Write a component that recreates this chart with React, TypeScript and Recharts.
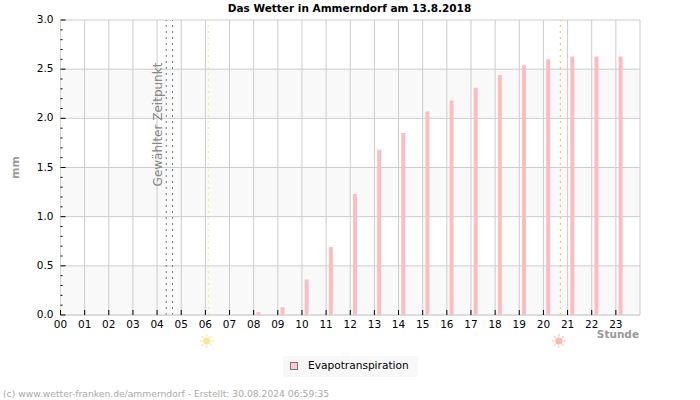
import React from "react";
import {
  Bar,
  CartesianGrid,
  ComposedChart,
  Legend,
  ReferenceLine,
  XAxis,
  YAxis,
} from "recharts";

const FONT = "'DejaVu Sans', sans-serif";

const HOURS = [0, 1, 2, 3, 4, 5, 6, 7, 8, 9, 10, 11, 12, 13, 14, 15, 16, 17, 18, 19, 20, 21, 22, 23];
const EVAPOTRANSPIRATION = [
  0, 0, 0, 0, 0, 0, 0, 0, 0.03, 0.08, 0.36, 0.69, 1.23, 1.68, 1.85, 2.07, 2.18, 2.31, 2.44, 2.54, 2.6, 2.63, 2.63, 2.63,
];
// hourly totals are plotted a little after the full hour
const BAR_SHIFT = 0.2;

const X_TICKS = [...HOURS, 24];
const Y_MAJOR = [0, 0.5, 1, 1.5, 2, 2.5, 3];
const Y_TICKS = [
  0, 0.1, 0.2, 0.3, 0.4, 0.5, 0.6, 0.7, 0.8, 0.9, 1, 1.1, 1.2, 1.3, 1.4, 1.5, 1.6, 1.7, 1.8, 1.9, 2, 2.1, 2.2, 2.3, 2.4,
  2.5, 2.6, 2.7, 2.8, 2.9, 3,
];

const SELECTED_TIMES = [4.38, 4.64];
const SUNRISE = 6.12;
const SUNSET = 20.7;

const data = HOURS.map((hour, i) => ({
  time: hour + BAR_SHIFT,
  value: EVAPOTRANSPIRATION[i],
}));

const HourTick = ({ x, y, payload }: any) => {
  if (payload.value === 24) return <g />;
  return (
    <g>
      <line x1={x} x2={x} y1={y} y2={y - 5} stroke="#000" />
      <text x={x} y={y + 13} textAnchor="middle" fontFamily={FONT} fontSize={10.5} fill="#000">
        {String(payload.value).padStart(2, "0")}
      </text>
    </g>
  );
};

const ValueTick = ({ x, y, payload }: any) => {
  const major = Y_MAJOR.includes(payload.value);
  return (
    <g>
      <line x1={x} x2={x + (major ? 5 : 2)} y1={y} y2={y} stroke="#000" />
      {major && (
        <text x={x - 7} y={y + 3} textAnchor="end" fontFamily={FONT} fontSize={10.5} fill="#000">
          {payload.value.toFixed(1)}
        </text>
      )}
    </g>
  );
};

const sunLabel = (core: string, ray: string) => (props: any) => {
  const { x, y, height } = props.viewBox;
  const cx = x - 1.5;
  const cy = y + height + 26;
  const rays = [0, 45, 90, 135, 180, 225, 270, 315];
  return (
    <g>
      {rays.map((angle) => {
        const rad = (angle * Math.PI) / 180;
        return (
          <line
            key={angle}
            x1={cx + 4.5 * Math.cos(rad)}
            y1={cy + 4.5 * Math.sin(rad)}
            x2={cx + 7 * Math.cos(rad)}
            y2={cy + 7 * Math.sin(rad)}
            stroke={ray}
            strokeWidth={1.3}
          />
        );
      })}
      <circle cx={cx} cy={cy} r={3.6} fill={core} />
    </g>
  );
};

const selectedLabel = (props: any) => {
  const { x, y, height } = props.viewBox;
  const cx = x - 8;
  const cy = y + height / 2 - 43;
  return (
    <text
      x={cx}
      y={cy}
      transform={`rotate(-90 ${cx} ${cy})`}
      textAnchor="middle"
      dominantBaseline="central"
      fontFamily={FONT}
      fontSize={12}
      fill="#888"
    >
      Gewählter Zeitpunkt
    </text>
  );
};

const LegendBox = () => (
  <div
    style={{
      width: 135,
      height: 21,
      background: "#f8f8f8",
      position: "relative",
      fontFamily: FONT,
      fontSize: 10.6,
      color: "#000",
    }}
  >
    <span
      style={{
        position: "absolute",
        left: 7,
        top: 6,
        width: 6,
        height: 6,
        background: "#ffcccc",
        border: "1px solid #777",
      }}
    />
    <span style={{ position: "absolute", left: 25, top: 3 }}>Evapotranspiration</span>
  </div>
);

export default function App() {
  return (
    <div style={{ position: "absolute", left: 0, top: 0, width: 700, height: 400, background: "#fff" }}>
      <div
        style={{
          position: "absolute",
          top: 2,
          left: 0,
          width: 699,
          textAlign: "center",
          fontFamily: FONT,
          fontSize: 10.5,
          fontWeight: "bold",
        }}
      >
        Das Wetter in Ammerndorf am 13.8.2018
      </div>
      <ComposedChart
        width={700}
        height={400}
        data={data}
        margin={{ top: 20, right: 60, bottom: 0, left: 0 }}
        style={{ position: "absolute", left: 0, top: 0 }}
      >
        <CartesianGrid
          stroke="#cccccc"
          horizontalValues={Y_MAJOR}
          verticalValues={X_TICKS}
          horizontalFill={["#ffffff", "#f9f9f9"]}
          fillOpacity={1}
        />
        <XAxis
          dataKey="time"
          type="number"
          domain={[0, 24]}
          ticks={X_TICKS}
          interval={0}
          axisLine={{ stroke: "#d4d4d4" }}
          tickLine={false}
          tickSize={0}
          tickMargin={0}
          tick={HourTick}
          height={85}
          label={{
            value: "Stunde",
            position: "insideTopRight",
            offset: 14,
            dx: 13,
            dy: 2,
            style: { fontFamily: FONT, fontSize: 10.5, fontWeight: "bold", fill: "#999" },
          }}
        />
        <YAxis
          type="number"
          domain={[0, 3]}
          ticks={Y_TICKS}
          interval={0}
          width={60.5}
          axisLine={{ stroke: "#d4d4d4" }}
          tickLine={false}
          tickSize={0}
          tickMargin={0}
          tick={ValueTick}
          label={{
            value: "mm",
            angle: -90,
            position: "insideLeft",
            offset: 15,
            style: { fontFamily: FONT, fontSize: 11, fontWeight: "bold", fill: "#999", textAnchor: "middle" },
          }}
        />
        <Bar dataKey="value" name="Evapotranspiration" fill="#ffbcbc" barSize={4} isAnimationActive={false} />
        {SELECTED_TIMES.map((time, i) => (
          <ReferenceLine
            key={time}
            x={time}
            stroke="#777"
            strokeDasharray="2 4"
            label={i === 0 ? selectedLabel : undefined}
          />
        ))}
        <ReferenceLine x={SUNRISE} stroke="#f8ee5a" strokeDasharray="2 4" label={sunLabel("#ffe391", "#ffeaa8")} />
        <ReferenceLine x={SUNSET} stroke="#ffb83a" strokeDasharray="2 4" label={sunLabel("#ffb8a3", "#ffcbbb")} />
        <Legend
          layout="horizontal"
          verticalAlign="middle"
          align="center"
          content={LegendBox}
          wrapperStyle={{ left: 283, top: 356, width: 135, height: 21, bottom: "auto" }}
        />
      </ComposedChart>
      <div
        style={{
          position: "absolute",
          left: 3,
          top: 388,
          fontFamily: FONT,
          fontSize: 9.2,
          color: "#aaa",
          whiteSpace: "nowrap",
        }}
      >
        (c) www.wetter-franken.de/ammerndorf - Erstellt: 30.08.2024 06:59:35
      </div>
    </div>
  );
}
